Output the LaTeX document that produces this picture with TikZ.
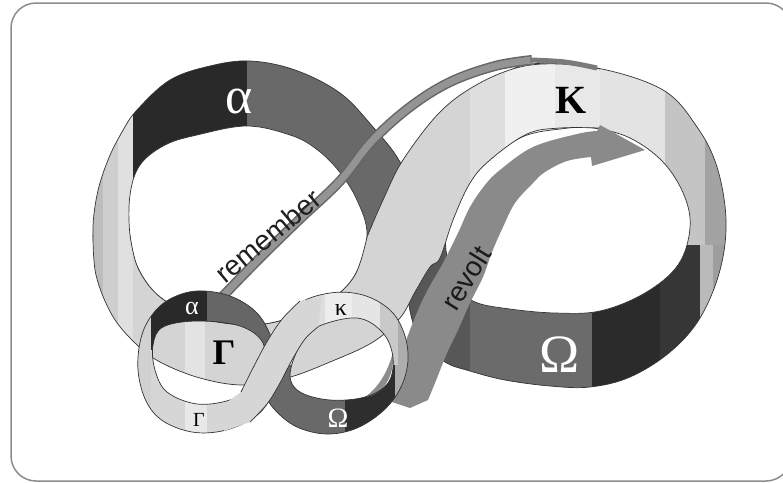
\documentclass[tikz,border=0pt]{standalone}
\usepackage{fontspec}
\setmainfont{Liberation Serif}
\newfontfamily\sansf{Liberation Sans}
\newcommand\cstrip[5]{\fill[#1] (#2,#4) rectangle (#3,#5);}
% big left ring
\newcommand\BLo{plot[smooth cycle,tension=0.6] coordinates {(93,235) (97,195) (108,160) (122,132) (137,110) (170,80) (210,66) (250,61) (295,70) (340,93) (373,127) (400,162) (416,205) (418,250) (405,300) (365,338) (300,368) (230,378) (165,355) (118,312) (100,275)}}
\newcommand\BLh{plot[smooth cycle,tension=0.6] coordinates {(130,235) (130,195) (140,165) (165,145) (197,135) (247,126) (290,135) (315,148) (338,170) (357,200) (367,235) (355,275) (330,300) (290,318) (250,325) (200,318) (160,297) (138,268)}}
% big right ring
\newcommand\BRo{plot[smooth cycle,tension=0.6] coordinates {(530,64) (597,68) (663,90) (697,127) (717,167) (726,220) (720,270) (700,318) (670,352) (630,377) (590,387) (550,386) (505,380) (470,371) (445,362) (420,340) (408,300) (405,250) (415,195) (435,145) (465,105) (500,78)}}
\newcommand\BRh{plot[smooth cycle,tension=0.6] coordinates {(593,128) (630,138) (663,162) (684,195) (690,228) (678,265) (645,293) (600,311) (555,313) (510,309) (475,302) (455,285) (446,250) (448,225) (465,188) (486,162) (522,137) (560,129)}}
% big crossing band
\newcommand\SbUp{plot[smooth,tension=0.6] coordinates {(600,69) (560,64) (520,67) (478,84) (440,112) (403,160) (383,200) (367,237)}}
\newcommand\SbHo{plot[smooth,tension=0.6] coordinates {(367,237) (355,275) (330,300) (290,318) (250,325) (200,318) (160,297) (138,268) (130,235)}}
\newcommand\SbLo{plot[smooth,tension=0.6] coordinates {(93,235) (96,275) (112,315) (135,343) (160,362) (200,378) (243,385) (287,378) (330,362) (373,342) (400,318) (415,292) (430,267) (440,258) (453,220) (470,183) (490,160) (527,134) (560,128) (600,128)}}
\newcommand\Spath{plot[smooth,tension=0.6] coordinates {(600,69) (560,64) (520,67) (478,84) (440,112) (403,160) (383,200) (367,237)} -- plot[smooth,tension=0.6] coordinates {(367,237) (355,275) (330,300) (290,318) (250,325) (200,318) (160,297) (138,268) (130,235)} -- plot[smooth,tension=0.6] coordinates {(93,235) (96,275) (112,315) (135,343) (160,362) (200,378) (243,385) (287,378) (330,362) (373,342) (400,318) (415,292) (430,267) (440,258) (453,220) (470,183) (490,160) (527,134) (560,128) (600,128)} -- cycle}
% small left ring
\newcommand\SLo{plot[smooth cycle,tension=0.6] coordinates {(138,370) (141,338) (152,315) (170,299) (197,291) (230,296) (257,313) (272,340) (276,370) (268,402) (250,420) (222,431) (192,432) (163,421) (146,401)}}
\newcommand\SLh{plot[smooth cycle,tension=0.6] coordinates {(155,370) (167,392) (197,404) (230,400) (253,387) (262,370) (263,343) (240,326) (197,321) (163,327) (153,345)}}
% small right ring
\newcommand\SRo{plot[smooth cycle,tension=0.6] coordinates {(268,370) (276,335) (297,305) (330,293) (363,295) (390,310) (404,333) (408,360) (401,387) (384,410) (357,428) (327,434) (297,427) (275,410) (265,392)}}
\newcommand\SRh{plot[smooth cycle,tension=0.6] coordinates {(300,392) (330,400) (365,397) (388,383) (393,358) (383,333) (357,318) (317,327) (300,345) (290,375)}}
\begin{document}
\begin{tikzpicture}[x=1pt,y=-1pt,
  rim/.style={draw=black!80, line width=0.7pt},
  greek/.style={inner sep=0pt}]
\useasboundingbox (0,0) rectangle (783,482);
\fill[white] (0,0) rectangle (783,482);
\draw[black!45, line width=1.5pt, rounded corners=25pt] (11,3) rectangle (791,481);

% ---- big right ring
\begin{scope}
\clip \BRo;
\cstrip{black!17}{390}{470}{0}{245}
\cstrip{black!13}{470}{505}{0}{245}
\cstrip{black!6}{505}{555}{0}{245}
\cstrip{black!9}{555}{597}{0}{245}
\cstrip{black!11}{597}{665}{0}{245}
\cstrip{black!23}{665}{705}{0}{245}
\cstrip{black!36}{705}{735}{0}{245}
\cstrip{black!66}{390}{470}{245}{400}
\cstrip{black!58}{470}{592}{245}{400}
\cstrip{black!83}{592}{660}{245}{400}
\cstrip{black!79}{660}{700}{245}{400}
\cstrip{black!27}{700}{713}{245}{400}
\cstrip{black!38}{713}{735}{245}{400}
\end{scope}
\fill[white] \BRh;
\draw[rim] \BRo;
\draw[rim] \BRh;

% ---- big left ring
\begin{scope}
\clip \BLo;
\cstrip{black!26}{85}{103}{0}{400}
\cstrip{black!19}{103}{118}{0}{400}
\cstrip{black!12}{118}{133}{0}{400}
\cstrip{black!84}{133}{247}{0}{240}
\cstrip{black!17}{133}{247}{240}{400}
\cstrip{black!59}{247}{425}{0}{260}
\cstrip{black!17}{247}{425}{260}{400}
\end{scope}
\fill[white] \BLh;
\draw[rim] \BLo;
\draw[rim] \BLh;

% ---- big crossing band
\begin{scope}
\clip \Spath;
\cstrip{black!26}{80}{103}{0}{400}
\cstrip{black!19}{103}{118}{0}{400}
\cstrip{black!12}{118}{133}{0}{400}
\cstrip{black!17}{133}{185}{0}{400}
\cstrip{black!11}{185}{205}{0}{400}
\cstrip{black!17}{205}{470}{0}{400}
\cstrip{black!13}{470}{505}{0}{400}
\cstrip{black!6}{505}{555}{0}{400}
\cstrip{black!9}{555}{610}{0}{400}
\end{scope}
\draw[rim] \SbUp;
\draw[rim] \SbHo;
\draw[rim] \SbLo;

% ---- remember arrow
\draw[black!60, line width=10pt] plot[smooth,tension=0.6] coordinates {(222,297) (260,258) (300,219) (340,181) (372,141) (410,107) (450,82) (495,66) (532,60)};
\draw[black!42, line width=7pt] plot[smooth,tension=0.6] coordinates {(222,297) (260,258) (300,219) (340,181) (372,141) (410,107) (450,82) (495,66) (532,60)};
\draw[black!52, line width=5pt] plot[smooth,tension=0.6] coordinates {(530,60) (565,62) (597,68)};
\node[font=\sansf\fontsize{28}{28}\selectfont, rotate=40, text=black!88, inner sep=0pt] (remember) at (268,236) {remember};

% ---- revolt arrow
\fill[black!46] plot[smooth,tension=0.6] coordinates {(392,402) (400,360) (410,330) (425,295) (443,263) (458,233) (470,207) (485,185) (500,170) (533,147) (577,134) (597,131)} -- (600,125) -- (645,150) -- (592,166) -- plot[smooth,tension=0.6] coordinates {(591,157) (567,161) (545,172) (533,183) (515,203) (503,227) (492,252) (483,277) (470,303) (458,330) (447,353) (437,378) (428,400)} -- (410,408) -- cycle;
\node[font=\sansf\fontsize{28}{28}\selectfont, rotate=58, text=black!90, inner sep=0pt] (revolt) at (466,278) {revolt};

% ---- big labels
\node[greek, text=white, font=\fontsize{52}{52}\selectfont] (alphaB) at (239,101) {α};
\node[greek, text=black, font=\bfseries\fontsize{40}{40}\selectfont] (kappaB) at (571,100) {Κ};
\node[greek, text=white, font=\fontsize{54}{54}\selectfont] (omegaB) at (560,355) {Ω};

% ---- small left ring
\begin{scope}
\clip \SLo \SLh;
\cstrip{black!18}{130}{151}{280}{440}
\cstrip{black!84}{151}{207}{280}{350}
\cstrip{black!16}{151}{185}{350}{440}
\cstrip{black!9}{185}{207}{350}{440}
\cstrip{black!60}{207}{280}{280}{355}
\cstrip{black!16}{207}{280}{355}{440}
\end{scope}
\draw[rim] \SLo;
\draw[rim] \SLh;

% ---- small right ring
\begin{scope}
\clip \SRo \SRh;
\cstrip{black!17}{260}{300}{280}{365}
\cstrip{black!13}{300}{325}{280}{365}
\cstrip{black!7}{325}{352}{280}{365}
\cstrip{black!10}{352}{380}{280}{365}
\cstrip{black!21}{380}{398}{280}{365}
\cstrip{black!32}{398}{415}{280}{365}
\cstrip{black!59}{260}{345}{365}{440}
\cstrip{black!82}{345}{395}{365}{440}
\cstrip{black!32}{395}{415}{365}{440}
\end{scope}
\fill[black!45] (393,352) .. controls (395,378) and (382,395) .. (365,397) .. controls (378,388) and (388,372) .. cycle;
\draw[rim] \SRo;
\draw[rim] \SRh;

% ---- small crossing band
\fill[black!16] plot[smooth,tension=0.6] coordinates {(300,301) (283,318) (268,340) (254,366) (241,392)} -- (226,403) -- (224,431) -- plot[smooth,tension=0.6] coordinates {(250,422) (267,404) (280,383) (292,360) (305,339) (318,327)} -- (322,297) -- cycle;
\draw[rim] plot[smooth,tension=0.6] coordinates {(300,301) (283,318) (268,340) (254,366) (241,392)};
\draw[rim] plot[smooth,tension=0.6] coordinates {(250,422) (267,404) (280,383) (292,360) (305,339) (318,327)};

% ---- small labels
\node[greek, text=white, font=\fontsize{26}{26}\selectfont] (alphaS) at (192,308) {α};
\node[greek, text=black, font=\fontsize{24}{24}\selectfont] (kappaS) at (341,310) {κ};
\node[greek, text=black, font=\bfseries\fontsize{36}{36}\selectfont] (gammaB) at (224,353) {Γ};
\node[greek, text=black, font=\fontsize{20}{20}\selectfont] (gammaS) at (199,420) {Γ};
\node[greek, text=white, font=\fontsize{28}{28}\selectfont] (omegaS) at (338,418) {Ω};
\end{tikzpicture}
\end{document}
